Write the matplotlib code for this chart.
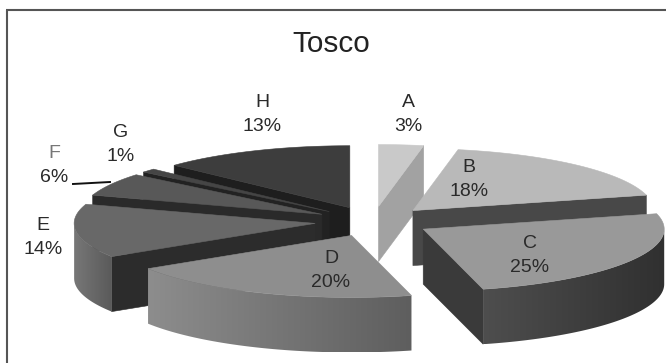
import numpy as np
import matplotlib
matplotlib.use("Agg")
import matplotlib.pyplot as plt
from matplotlib.colors import to_rgb
from matplotlib.patches import Polygon

# Data
categories = ["A", "B", "C", "D", "E", "F", "G", "H"]
shares = [3, 18, 25, 20, 14, 6, 1, 13]
title = "Tosco"

# Shading of each slice
top_colors = ["#c9c9c9", "#b9b9b9", "#999999", "#8e8e8e", "#686868", "#585858", "#454545", "#3d3d3d"]
cut_colors = ["#a2a2a2", "#484848", "#3a3a3a", "#555555", "#2c2c2c", "#2a2a2a", "#222222", "#1e1e1e"]
rim_left = ["#a2a2a2", "#484848", "#4e4e4e", "#8d8d8d", "#777777", "#555555", "#333333", "#2a2a2a"]
rim_right = ["#a2a2a2", "#484848", "#303030", "#5e5e5e", "#5a5a5a", "#555555", "#333333", "#2a2a2a"]
label_colors = ["#2a2a2a"] * 5 + ["#777777", "#2a2a2a", "#2a2a2a"]

# Layout, in figure pixels
CX, CY = 373.0, 221.5
RX, RY = 241.0, 62.0
EXPLODE = 0.242
DEPTH = 55.0
LABEL_XY = {
    "A": (408, 114.5), "B": (469, 179), "C": (530, 256), "D": (331, 270.5),
    "E": (43, 238), "F": (54, 165.5), "G": (121, 144.5), "H": (262, 114.5),
}

plt.rcParams["font.family"] = ["Liberation Sans", "DejaVu Sans"]
fig = plt.figure(figsize=(6.66, 3.63), dpi=100)
ax = fig.add_axes([0, 0, 1, 1])
ax.axis("off")


def rim_point(theta, apex):
    return apex[0] + RX * np.sin(theta), apex[1] - RY * np.cos(theta)


def draw_cut(theta, apex, color, z):
    x, y = rim_point(theta, apex)
    ax.add_patch(Polygon([apex, (x, y), (x, y + DEPTH), (apex[0], apex[1] + DEPTH)],
                         closed=True, fc=color, ec=color, lw=0.4, zorder=z))


def draw_slice(i, start, end, z):
    mid = (start + end) / 2
    apex = (CX + EXPLODE * RX * np.sin(mid), CY - EXPLODE * RY * np.cos(mid))

    if np.sin(start) < -1e-6:
        draw_cut(start, apex, cut_colors[i], z)
    if np.sin(end) > 1e-6:
        draw_cut(end, apex, cut_colors[i], z)

    # Outer wall: only the part on the viewer's side of the ellipse, shaded left to right
    lo, hi = max(start, np.pi / 2), min(end, 3 * np.pi / 2)
    if hi > lo:
        angles = np.linspace(lo, hi, 120)
        upper = [rim_point(a, apex) for a in angles]
        lower = [(x, y + DEPTH) for x, y in reversed(upper)]
        wall = Polygon(upper + lower, closed=True, fc="none", ec="none",
                       transform=ax.transData)
        ax.add_patch(wall)
        xs = [p[0] for p in upper]
        ys = [p[1] for p in upper]
        ramp = np.linspace(to_rgb(rim_left[i]), to_rgb(rim_right[i]), 256)[np.newaxis, :, :]
        img = ax.imshow(ramp, extent=(min(xs), max(xs), max(ys) + DEPTH, min(ys)),
                        origin="upper", aspect="auto", interpolation="bilinear", zorder=z)
        img.set_clip_path(wall)

    # Top face
    angles = np.linspace(start, end, 120)
    outline = [apex] + [rim_point(a, apex) for a in angles]
    ax.add_patch(Polygon(outline, closed=True, fc=top_colors[i], ec=top_colors[i],
                         lw=0.4, zorder=z))


fractions = np.array(shares, dtype=float) / sum(shares)
edges = np.concatenate([[0], np.cumsum(fractions)]) * 2 * np.pi

# Painter's order: rear slices first, front slices last
for z, i in enumerate([0, 7, 6, 5, 1, 4, 2, 3], start=2):
    draw_slice(i, edges[i], edges[i + 1], z)

ax.set_xlim(0, 666)
ax.set_ylim(363, 0)

# Chart frame: only the top and left rules are present
ax.plot([6.5, 6.5], [363, 10], color="#555555", lw=1.5, solid_capstyle="butt", zorder=20)
ax.plot([5.7, 666], [10, 10], color="#555555", lw=1.5, solid_capstyle="butt", zorder=20)

# Leader line of slice F
ax.plot([73, 110], [184, 182], color="#111111", lw=1.4, zorder=20)

ax.text(331, 44, title, ha="center", va="center", fontsize=21.4, color="#222222", zorder=21)
for name, share, color in zip(categories, shares, label_colors):
    x, y = LABEL_XY[name]
    ax.text(x, y - 12, name, ha="center", va="center", fontsize=14, color=color, zorder=21)
    ax.text(x, y + 12, f"{share}%", ha="center", va="center", fontsize=14,
            color="#2a2a2a", zorder=21)

fig.savefig("out.png", dpi=100, facecolor="white")
